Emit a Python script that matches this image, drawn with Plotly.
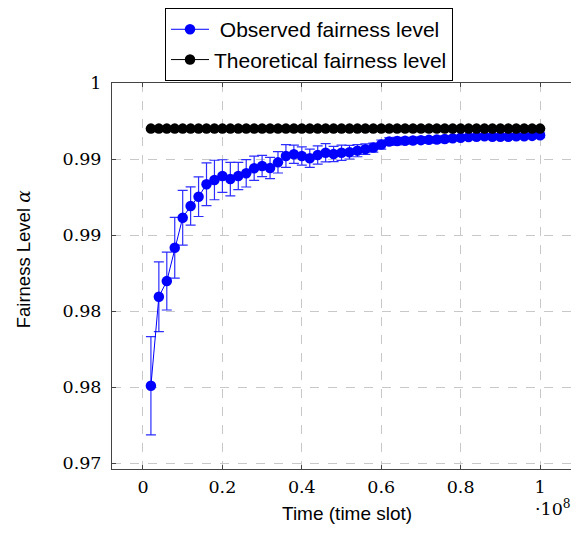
import plotly.graph_objects as go

# Time slots in units of 1e8
time_slots = [0.02, 0.04, 0.06, 0.08, 0.10, 0.12, 0.14, 0.16, 0.18, 0.20,
              0.22, 0.24, 0.26, 0.28, 0.30, 0.32, 0.34, 0.36, 0.38, 0.40,
              0.42, 0.44, 0.46, 0.48, 0.50, 0.52, 0.54, 0.56, 0.58, 0.60,
              0.62, 0.64, 0.66, 0.68, 0.70, 0.72, 0.74, 0.76, 0.78, 0.80,
              0.82, 0.84, 0.86, 0.88, 0.90, 0.92, 0.94, 0.96, 0.98, 1.00]

observed = [0.98009, 0.98594, 0.98697, 0.98916, 0.99114, 0.99191, 0.99252, 0.99334, 0.99362, 0.99388,
            0.99368, 0.99388, 0.99406, 0.99439, 0.99454, 0.99441, 0.99478, 0.99520, 0.99531, 0.99520,
            0.99505, 0.99526, 0.99541, 0.99533, 0.99541, 0.99545, 0.99555, 0.99565, 0.99575, 0.99595,
            0.99615, 0.99618, 0.99620, 0.99622, 0.99624, 0.99626, 0.99628, 0.99632, 0.99636, 0.99640,
            0.99644, 0.99647, 0.99649, 0.99647, 0.99646, 0.99647, 0.99649, 0.99650, 0.99652, 0.99656]

observed_err = [0.00323, 0.00230, 0.00190, 0.00200, 0.00180, 0.00126, 0.00130, 0.00140, 0.00130, 0.00107,
                0.00110, 0.00090, 0.00090, 0.00080, 0.00070, 0.00070, 0.00070, 0.00075, 0.00060, 0.00060,
                0.00060, 0.00060, 0.00060, 0.00050, 0.00050, 0.00045, 0.00040, 0.00035, 0.00030, 0.00030,
                0.00025, 0.00025, 0.00020, 0.00020, 0.00020, 0.00020, 0.00020, 0.00020, 0.00015, 0.00015,
                0.00015, 0.00015, 0.00015, 0.00015, 0.00015, 0.00015, 0.00015, 0.00015, 0.00015, 0.00015]

theoretical = [0.997, 0.997, 0.997, 0.997, 0.997, 0.997, 0.997, 0.997, 0.997, 0.997,
               0.997, 0.997, 0.997, 0.997, 0.997, 0.997, 0.997, 0.997, 0.997, 0.997,
               0.997, 0.997, 0.997, 0.997, 0.997, 0.997, 0.997, 0.997, 0.997, 0.997,
               0.997, 0.997, 0.997, 0.997, 0.997, 0.997, 0.997, 0.997, 0.997, 0.997,
               0.997, 0.997, 0.997, 0.997, 0.997, 0.997, 0.997, 0.997, 0.997, 0.997]

x_tickvals = [0, 0.2, 0.4, 0.6, 0.8, 1.0]
x_ticktext = ["0", "0.2", "0.4", "0.6", "0.8", "1"]
y_tickvals = [0.975, 0.98, 0.985, 0.99, 0.995, 1.0]
y_ticktext = ["0.97", "0.98", "0.98", "0.99", "0.99", "1"]

fig = go.Figure()
fig.add_trace(go.Scatter(
    x=time_slots, y=observed, mode="lines+markers",
    name="\u00a0Observed fairness level",
    line=dict(color="#0000ff", width=1),
    marker=dict(color="#0000ff", size=10.5),
    error_y=dict(type="data", array=observed_err, visible=True,
                 color="rgb(45,45,255)", thickness=1.2, width=5),
))
fig.add_trace(go.Scatter(
    x=time_slots, y=theoretical, mode="lines+markers",
    name="Theoretical fairness level",
    line=dict(color="black", width=1),
    marker=dict(color="black", size=10.5),
))

serif = "DejaVu Serif"
sans = "Liberation Sans"

fig.update_xaxes(
    range=[-0.078, 1.098], tickvals=x_tickvals, ticktext=x_ticktext,
    showgrid=True, gridcolor="#c8c8c8", griddash="dash", gridwidth=1,
    zeroline=False, showline=True, linecolor="#444", linewidth=1, mirror="ticks",
    ticks="inside", ticklen=4, tickcolor="#444", automargin=False,
    ticklabelstandoff=2,
    tickfont=dict(family=serif, size=17.5, color="black"),
)
fig.update_yaxes(
    range=[0.97461, 1.0], tickvals=y_tickvals, ticktext=y_ticktext,
    showgrid=True, gridcolor="#c8c8c8", griddash="dash", gridwidth=1,
    zeroline=False, showline=True, linecolor="#444", linewidth=1, mirror="ticks",
    ticks="inside", ticklen=4, tickcolor="#444", automargin=False,
    ticklabelstandoff=6,
    tickfont=dict(family=serif, size=17.5, color="black"),
)

# The page body has an 8px margin, so the figure is 16px smaller than the window.
fig.update_layout(
    width=571, height=526,
    margin=dict(l=104, r=0, t=75, b=65, autoexpand=False),
    plot_bgcolor="white", paper_bgcolor="white",
    legend=dict(x=0.1135, y=1.194, xanchor="left", yanchor="top",
                bgcolor="white", bordercolor="black", borderwidth=1,
                itemwidth=38,
                font=dict(family=sans, size=21, color="black")),
    annotations=[
        dict(text="Fairness Level <span style='font-family:DejaVu Serif'><i>α</i></span>",
             xref="paper", yref="paper", x=-0.19, y=0.544, textangle=-90,
             xanchor="center", yanchor="middle",
             showarrow=False, font=dict(family=sans, size=18.5, color="black")),
        dict(text="Time (time slot)", xref="paper", yref="paper", x=0.504, y=-0.114,
             xanchor="center", yanchor="middle",
             showarrow=False, font=dict(family=sans, size=19, color="black")),
        dict(text="·10<sup>8</sup>", xref="paper", yref="paper", x=0.944, y=-0.101,
             xanchor="center", yanchor="middle",
             showarrow=False, font=dict(family=serif, size=17.5, color="black")),
    ],
)

fig.write_html("out.html")
